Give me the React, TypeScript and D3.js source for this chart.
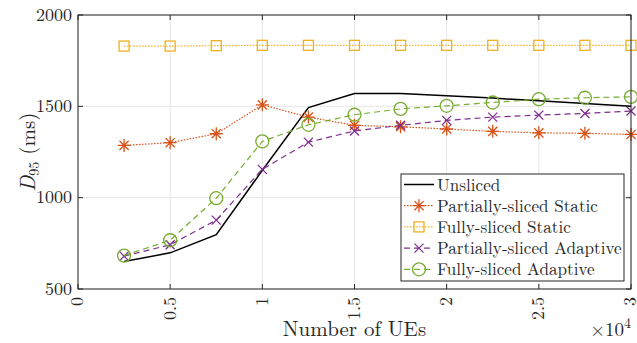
import * as d3 from "d3";

// number of UEs (x axis)
const ues = [2500, 5000, 7500, 10000, 12500, 15000, 17500, 20000, 22500, 25000, 27500, 30000];

// D95 (ms) per scheme
const unsliced = [650, 698, 797, 1150, 1493, 1570, 1570, 1558, 1545, 1530, 1515, 1500];
const partialStatic = [1286, 1301, 1350, 1508, 1441, 1396, 1388, 1376, 1363, 1355, 1352, 1346];
const fullStatic = [1830, 1830, 1832, 1834, 1834, 1834, 1834, 1834, 1834, 1834, 1834, 1834];
const partialAdaptive = [680, 742, 877, 1155, 1304, 1365, 1396, 1423, 1441, 1452, 1461, 1474];
const fullAdaptive = [683, 767, 997, 1308, 1399, 1454, 1486, 1503, 1521, 1539, 1547, 1552];

const xTicks = [0, 5000, 10000, 15000, 20000, 25000, 30000];
const yTicks = [500, 1000, 1500, 2000];

type Marker = "none" | "star" | "square" | "x" | "circle";

interface Series {
  name: string;
  values: number[];
  color: string;
  dash?: string;
  marker: Marker;
}

const series: Series[] = [
  { name: "Unsliced", values: unsliced, color: "#000000", marker: "none" },
  { name: "Partially-sliced Static", values: partialStatic, color: "#D95319", dash: "1.5,1.5", marker: "star" },
  { name: "Fully-sliced Static", values: fullStatic, color: "#EDB120", dash: "1.5,1.5", marker: "square" },
  { name: "Partially-sliced Adaptive", values: partialAdaptive, color: "#7E2F8E", dash: "6,4", marker: "x" },
  { name: "Fully-sliced Adaptive", values: fullAdaptive, color: "#77AC30", dash: "6,4", marker: "circle" },
];

const FONT = '"Latin Modern Roman", "Liberation Serif", serif';
const AXIS = "#262626";
const WIDTH = 637;
const HEIGHT = 343;
const margin = { top: 15, right: 6, bottom: 54, left: 78 };
const innerWidth = WIDTH - margin.left - margin.right;
const innerHeight = HEIGHT - margin.top - margin.bottom;

const x = d3.scaleLinear().domain([0, 30000]).range([0, innerWidth]);
const y = d3.scaleLinear().domain([500, 2000]).range([innerHeight, 0]);

const MarkerShape = ({ kind, cx, cy, color }: { kind: Marker; cx: number; cy: number; color: string }) => {
  if (kind === "star") {
    const r = 6.5;
    const p = d3.path();
    for (let k = 0; k < 4; k++) {
      const a = (k * Math.PI) / 4;
      p.moveTo(cx - r * Math.cos(a), cy - r * Math.sin(a));
      p.lineTo(cx + r * Math.cos(a), cy + r * Math.sin(a));
    }
    return <path d={p.toString()} stroke={color} strokeWidth={1.3} fill="none" />;
  }
  if (kind === "square") {
    return <rect x={cx - 5} y={cy - 5} width={10} height={10} fill="none" stroke={color} strokeWidth={1.3} />;
  }
  if (kind === "x") {
    const r = 4.5;
    return (
      <path
        d={`M${cx - r},${cy - r}L${cx + r},${cy + r}M${cx - r},${cy + r}L${cx + r},${cy - r}`}
        stroke={color}
        strokeWidth={1.3}
        fill="none"
      />
    );
  }
  if (kind === "circle") {
    return <circle cx={cx} cy={cy} r={6.5} fill="none" stroke={color} strokeWidth={1.3} />;
  }
  return null;
};

const line = d3.line();

const App = () => {
  const lx = 401;
  const ly = 174;
  const lw = 223;
  const lh = 107;

  return (
    <svg
      width={WIDTH}
      height={HEIGHT}
      style={{ position: "absolute", left: 0, top: 0, display: "block", fontFamily: FONT }}
    >
      <rect width={WIDTH} height={HEIGHT} fill="white" />
      <g transform={`translate(${margin.left}, ${margin.top})`}>
        {/* grid */}
        {xTicks.map((t) => (
          <line key={`gx${t}`} x1={x(t)} x2={x(t)} y1={0} y2={innerHeight} stroke="#e6e6e6" />
        ))}
        {yTicks.map((t) => (
          <line key={`gy${t}`} x1={0} x2={innerWidth} y1={y(t)} y2={y(t)} stroke="#e6e6e6" />
        ))}

        {/* series */}
        {series.map((s) => {
          const pts = s.values.map((v, i) => [x(ues[i]), y(v)] as [number, number]);
          return (
            <g key={s.name}>
              <path
                d={line(pts) ?? ""}
                fill="none"
                stroke={s.color}
                strokeWidth={s.marker === "none" ? 1.5 : 1.2}
                strokeDasharray={s.dash}
              />
              {pts.map(([px, py], i) => (
                <MarkerShape key={i} kind={s.marker} cx={px} cy={py} color={s.color} />
              ))}
            </g>
          );
        })}

        {/* frame */}
        <rect width={innerWidth} height={innerHeight} fill="none" stroke={AXIS} />

        {/* x ticks */}
        {xTicks.map((t) => (
          <g key={`tx${t}`}>
            <line x1={x(t)} x2={x(t)} y1={innerHeight} y2={innerHeight - 5} stroke={AXIS} />
            <line x1={x(t)} x2={x(t)} y1={0} y2={5} stroke={AXIS} />
            <text
              transform={`translate(${x(t)}, ${innerHeight + 8}) rotate(-90)`}
              textAnchor="end"
              dy="0.3em"
              fontSize={18}
              fill={AXIS}
            >
              {t / 10000}
            </text>
          </g>
        ))}

        {/* y ticks */}
        {yTicks.map((t) => (
          <g key={`ty${t}`}>
            <line x1={0} x2={5} y1={y(t)} y2={y(t)} stroke={AXIS} />
            <line x1={innerWidth} x2={innerWidth - 5} y1={y(t)} y2={y(t)} stroke={AXIS} />
            <text x={-6} y={y(t)} dy="0.32em" textAnchor="end" fontSize={18} fill={AXIS}>
              {d3.format("d")(t)}
            </text>
          </g>
        ))}
      </g>

      {/* axis titles */}
      <text x={margin.left + innerWidth / 2} y={336} textAnchor="middle" fontSize={21} fill={AXIS}>
        Number of UEs
      </text>
      <text x={631} y={336} textAnchor="end" fontSize={19} fill={AXIS}>
        ×10
        <tspan dy={-8} fontSize={14}>
          4
        </tspan>
      </text>
      <text
        transform={`translate(35, ${margin.top + innerHeight / 2}) rotate(-90)`}
        textAnchor="middle"
        fontSize={21}
        fill={AXIS}
      >
        <tspan fontStyle="italic">D</tspan>
        <tspan dy={4} fontSize={14}>
          95
        </tspan>
        <tspan dy={-4}> (ms)</tspan>
      </text>

      {/* legend */}
      <rect x={lx} y={ly} width={lw} height={lh} fill="white" stroke={AXIS} />
      {series.map((s, i) => {
        const cy = ly + 10.5 + i * 21.2;
        return (
          <g key={`leg${s.name}`}>
            <line
              x1={lx + 3}
              x2={lx + 33}
              y1={cy}
              y2={cy}
              stroke={s.color}
              strokeWidth={s.marker === "none" ? 1.5 : 1.2}
              strokeDasharray={s.dash}
            />
            <MarkerShape kind={s.marker} cx={lx + 18} cy={cy} color={s.color} />
            <text
              transform={`translate(${lx + 36}, ${cy}) scale(0.95)`}
              dy="0.35em"
              fontSize={18}
              fill={AXIS}
            >
              {s.name}
            </text>
          </g>
        );
      })}
    </svg>
  );
};

export default App;
